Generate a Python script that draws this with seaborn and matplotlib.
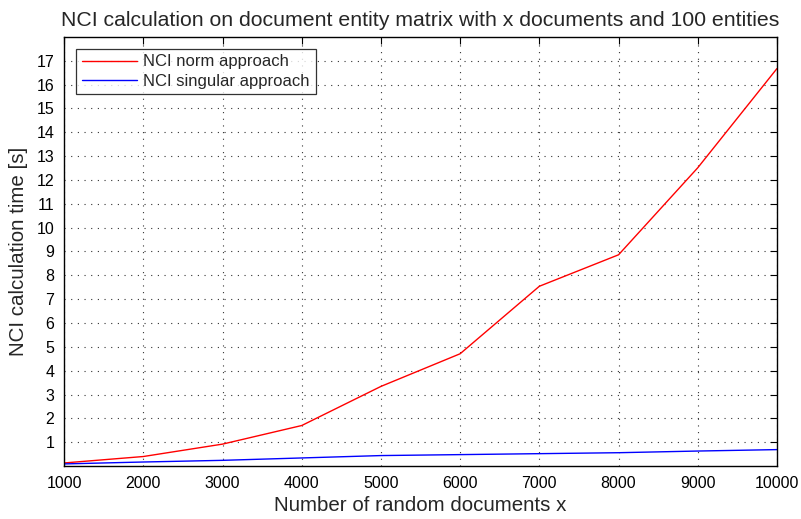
import pandas as pd
import matplotlib
matplotlib.use("Agg")
import matplotlib.pyplot as plt
import seaborn as sns

# values
docs = [1000, 2000, 3000, 4000, 5000, 6000, 7000, 8000, 9000, 10000]
norm_time = [0.13, 0.40, 0.92, 1.70, 3.34, 4.71, 7.54, 8.86, 12.51, 16.67]
singular_time = [0.09, 0.17, 0.24, 0.34, 0.44, 0.48, 0.52, 0.56, 0.63, 0.69]
labels = ["NCI norm approach", "NCI singular approach"]
x_ticks = list(range(1000, 10001, 1000))
y_ticks = list(range(1, 18))

df = pd.concat([
    pd.DataFrame({"x": docs, "t": norm_time, "method": labels[0]}),
    pd.DataFrame({"x": docs, "t": singular_time, "method": labels[1]}),
])

sns.set_style("white")
plt.rcParams["font.family"] = ["Liberation Sans", "DejaVu Sans"]

fig = plt.figure(figsize=(8.01, 5.19), dpi=100)
ax = fig.add_axes([0.080, 0.102, 0.890, 0.827])

sns.lineplot(data=df, x="x", y="t", hue="method",
             palette={labels[0]: "#ff0000", labels[1]: "#0000ff"},
             linewidth=1.0, ax=ax)

ax.set_xlim(1000, 10000)
ax.set_ylim(0, 18)
ax.set_xticks(x_ticks)
ax.set_yticks(y_ticks)
ax.tick_params(direction="in", length=5, width=0.8, top=True, right=True,
               labelsize=11.5, colors="black", pad=7)
for s in ax.spines.values():
    s.set_color("black")
    s.set_linewidth(1.0)
ax.grid(True, linestyle=(0, (1, 5)), color="#333333", linewidth=0.8)

ax.set_title("NCI calculation on document entity matrix with x documents and 100 entities",
             fontsize=15.3, pad=8)
ax.set_xlabel("Number of random documents x", fontsize=14.8, labelpad=4)
ax.set_ylabel("NCI calculation time [s]", fontsize=14.8, labelpad=6)

leg = ax.legend(loc="upper left", fontsize=12, frameon=True, fancybox=False,
                handlelength=3.3, handletextpad=0.4, borderaxespad=0.7,
                borderpad=0.35, labelspacing=0.25)
leg.get_frame().set_edgecolor("black")
leg.get_frame().set_linewidth(0.9)

fig.savefig("out.png", dpi=100)
